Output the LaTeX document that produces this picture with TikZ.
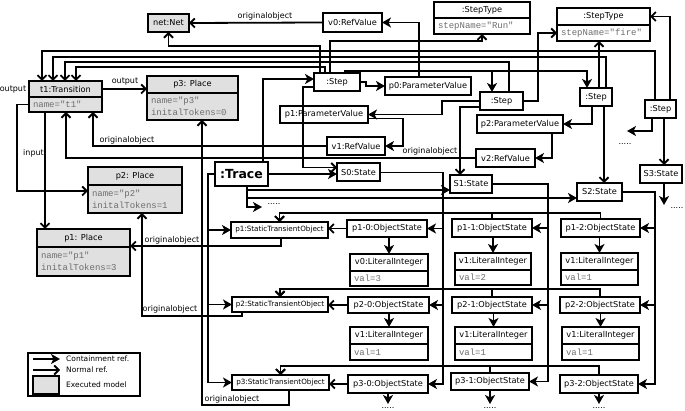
\documentclass[tikz,border=0pt]{standalone}
\usepackage{fontspec}
\setmainfont{DejaVu Sans}
\setmonofont{Liberation Mono}
\usepackage{tikz}
\usetikzlibrary{arrows.meta, positioning}
\definecolor{ExecGray}{RGB}{224,224,224}
\definecolor{AttrGray}{RGB}{110,110,110}

\begin{document}
\begin{tikzpicture}[x=1pt, y=-1pt,
  obj/.style={draw, line width=2pt, fill=white, outer sep=0pt,
              inner xsep=3pt, inner ysep=0pt, minimum height=18pt,
              font=\fontsize{8.2}{9.8}\selectfont},
  exec/.style={obj, fill=ExecGray},
  attr/.style={draw, line width=2pt, fill=white, outer sep=0pt,
               inner xsep=4pt, inner ysep=1pt, align=left, text=AttrGray,
               font=\ttfamily\fontsize{9}{12}\selectfont},
  sto/.style={obj, minimum height=16pt, font=\fontsize{7.2}{8.6}\selectfont},
  lbl/.style={inner sep=0pt, font=\fontsize{8}{9.6}\selectfont},
  dotlbl/.style={inner sep=0pt, font=\fontsize{8}{9.6}\selectfont},
  contain/.style={-{Stealth[length=9pt,width=10pt,inset=2.5pt]}, line width=1.8pt},
  ref/.style={-{Straight Barb[length=4.5pt,width=9pt]}, line width=1.8pt},
]
  \useasboundingbox (0,0) rectangle (685,411);

  \node[exec, minimum width=41pt] (net) at (168.5,23) {net:Net};
  \node[exec, minimum width=73pt, minimum height=16pt] (t1H) at (65.5,89) {t1:Transition};
  \node[attr, fill=ExecGray, text width=65pt, minimum height=15pt, below=0pt of t1H] (t1A) {name="t1"};
  \node[exec, minimum width=91pt, minimum height=17pt] (p3H) at (192.5,84.5) {p3: Place};
  \node[attr, fill=ExecGray, text width=83pt, minimum height=27pt, below=0pt of p3H] (p3A)
    {name="p3"\\initalTokens=0};
  \node[exec, minimum width=94pt] (p2H) at (135,176) {p2: Place};
  \node[attr, fill=ExecGray, text width=86pt, minimum height=28pt, below=0pt of p2H] (p2A)
    {name="p2"\\initalTokens=1};
  \node[exec, minimum width=93pt] (p1H) at (83.5,238) {p1: Place};
  \node[attr, fill=ExecGray, text width=85pt, minimum height=29pt, below=0pt of p1H] (p1A)
    {name="p1"\\initalTokens=3};

  \node[obj, minimum width=96pt, minimum height=16pt] (runH) at (482,10) {:StepType};
  \node[attr, text width=88pt, minimum height=16pt, below=0pt of runH] (runA) {stepName="Run"};
  \node[obj, minimum width=93pt, minimum height=17pt] (fireH) at (603.5,16.5) {:StepType};
  \node[attr, text width=85pt, minimum height=16pt, below=0pt of fireH] (fireA) {stepName="fire"};

  \node[obj, minimum width=59pt, minimum height=19pt] (v0ref) at (352.5,22.5) {v0:RefValue};
  \node[obj, minimum width=46pt] (step1) at (337,82) {:Step};
  \node[obj, minimum width=86pt] (p0pv) at (428,86) {p0:ParameterValue};
  \node[obj, minimum width=43pt] (step2) at (501.5,101) {:Step};
  \node[obj, minimum width=32pt] (step3) at (596,97) {:Step};
  \node[obj, minimum width=31pt] (step4) at (660.5,109) {:Step};
  \node[obj, minimum width=88pt, minimum height=17pt] (p1pv) at (324,114.5) {p1:ParameterValue};
  \node[obj, minimum width=86pt] (p2pv) at (520,124) {p2:ParameterValue};
  \node[obj, minimum width=58pt] (v1ref) at (356,146) {v1:RefValue};
  \node[obj, minimum width=59pt] (v2ref) at (505.5,158) {v2:RefValue};

  \node[obj, line width=2.6pt, minimum width=53pt, minimum height=24pt,
        font=\bfseries\fontsize{12.5}{14}\selectfont] (trace) at (241.5,174) {:Trace};
  \node[obj, minimum width=43pt] (S0) at (358.5,172.5) {S0:State};
  \node[obj, minimum width=42pt] (S1) at (471,184) {S1:State};
  \node[obj, minimum width=45pt] (S2) at (599.5,192) {S2:State};
  \node[obj, minimum width=42pt] (S3) at (661,174) {S3:State};

  \node[sto, minimum width=97pt] (p1sto) at (279.5,230) {p1:StaticTransientObject};
  \node[obj, minimum width=80pt, minimum height=17pt] (p10) at (387,228.5) {p1-0:ObjectState};
  \node[obj, minimum width=80pt] (p11) at (492,228) {p1-1:ObjectState};
  \node[obj, minimum width=79pt] (p12) at (600.5,228) {p1-2:ObjectState};
  \node[obj, minimum width=78pt, minimum height=17pt] (v0litH) at (389,262.5) {v0:LiteralInteger};
  \node[attr, text width=70pt, minimum height=15pt, below=0pt of v0litH] (v0litA) {val=3};
  \node[obj, minimum width=76pt, minimum height=17pt] (v1aH) at (493,261.5) {v1:LiteralInteger};
  \node[attr, text width=68pt, minimum height=15pt, below=0pt of v1aH] (v1aA) {val=2};
  \node[obj, minimum width=77pt, minimum height=17pt] (v1bH) at (599.5,261.5) {v1:LiteralInteger};
  \node[attr, text width=69pt, minimum height=15pt, below=0pt of v1bH] (v1bA) {val=1};

  \node[sto, minimum width=96pt, minimum height=15pt] (p2sto) at (280,304.5) {p2:StaticTransientObject};
  \node[obj, minimum width=81pt, minimum height=16pt] (p20) at (388.5,305) {p2-0:ObjectState};
  \node[obj, minimum width=80pt, minimum height=16pt] (p21) at (492,305) {p2-1:ObjectState};
  \node[obj, minimum width=80pt, minimum height=16pt] (p22) at (600,305) {p2-2:ObjectState};
  \node[obj, minimum width=78pt, minimum height=17pt] (v1cH) at (389,335.5) {v1:LiteralInteger};
  \node[attr, text width=70pt, minimum height=16pt, below=0pt of v1cH] (v1cA) {val=1};
  \node[obj, minimum width=77pt, minimum height=17pt] (v1dH) at (493.5,335.5) {v1:LiteralInteger};
  \node[attr, text width=69pt, minimum height=16pt, below=0pt of v1dH] (v1dA) {val=1};
  \node[obj, minimum width=77pt, minimum height=17pt] (v1eH) at (600.5,335.5) {v1:LiteralInteger};
  \node[attr, text width=69pt, minimum height=16pt, below=0pt of v1eH] (v1eA) {val=1};

  \node[sto, minimum width=97pt, minimum height=15pt] (p3sto) at (280.5,382.5) {p3:StaticTransientObject};
  \node[obj, minimum width=80pt] (p30) at (388,384) {p3-0:ObjectState};
  \node[obj, minimum width=78pt, minimum height=17pt] (p31) at (490,381.5) {p3-1:ObjectState};
  \node[obj, minimum width=78pt] (p32) at (599,384) {p3-2:ObjectState};

  \node[lbl] (lorigA) at (265,16) {originalobject};
  \node[lbl] (loutA) at (125,82) {output};
  \node[lbl] (loutB) at (13,90) {output};
  \node[lbl, anchor=east] (linA) at (44,153) {input};
  \node[lbl] (lorigB) at (127,140) {originalobject};
  \node[lbl] (lorigC) at (430,151) {originalobject};
  \node[lbl] (lorigD) at (172,240) {originalobject};
  \node[lbl] (lorigE) at (170,309) {originalobject};
  \node[lbl] (lorigF) at (232,399) {originalobject};

  \node[dotlbl] (tdots) at (274,204) {.....};
  \node[dotlbl] (s4dots) at (625,144) {.....};
  \node[dotlbl] (s3dots) at (677,208) {.....};
  \node[dotlbl] (p30dots) at (388,408) {.....};
  \node[dotlbl] (p31dots) at (490,408) {.....};
  \node[dotlbl] (p32dots) at (599,408) {.....};
  \coordinate (tend) at (262,207);
  \coordinate (s4end) at (627,131);
  \coordinate (s3end) at (664,205);
  \coordinate (p30end) at (388,404);
  \coordinate (p31end) at (490,404);
  \coordinate (p32end) at (599,404);

  \draw[ref] (v0ref.west) -- (net.east);
  \draw[contain] (p0pv.north -| 419,0) |- (v0ref.east);
  \draw[ref] (step1.north -| 320,0) -- (320,46) -| (net.south);
  \draw[ref] (step1.north -| 330,0) -- (330,41) -| (runA.south);
  \draw[ref] (step1.north -| 325,0) -- (325,67) -| (t1H.north -| 76,0);
  \draw[ref] (step2.north -| 509,0) -- (509,62) -| (t1H.north -| 65,0);
  \draw[ref] (step3.north -| 606,0) -- (606,57) -| (t1H.north -| 53,0);
  \draw[ref] (step4.north -| 655,0) -- (655,51) -| (t1H.north -| 42,0);
  \draw[ref] (step3.north -| 599,0) -- (fireA.south -| 599,0);
  \draw[ref] (step4.north -| 670,0) |- (fireH.east);
  \draw[ref] (step2.east) -- (538,101) |- (fireA.west);
  \draw[contain] (step1.north -| 345,0) -- (345,71) -| (step2.north -| 492,0);
  \draw[contain] (step1.north -| 345,0) -- (345,71) -| (step3.north -| 587,0);
  \draw[contain] (step1.east) -- ++(6,0) |- (p0pv.west);
  \draw[contain] (trace.north -| 263,0) |- ([yshift=3pt]step1.west);
  \draw[ref] ([yshift=-5pt]step1.west) -- (303,87) |- ([yshift=5pt]S0.west);
  \draw[contain] (step2.west) -- (442,101) |- (p1pv.east);
  \draw[ref] ([yshift=-6pt]step2.west) -| (S1.north -| 460,0);
  \draw[contain] (step3.south -| 592,0) |- (p2pv.east);
  \draw[ref] (step3.south -| 604,0) -- (S2.north -| 604,0);
  \draw[contain] (step4.south -| 652,0) |- (s4end);
  \draw[ref] (step4.south -| 664,0) -- (S3.north -| 664,0);
  \draw[contain] ([yshift=-4pt]p1pv.east) -| (403,146) -- (v1ref.east);
  \draw[contain] (p2pv.south -| 552,0) |- (v2ref.east);
  \draw[ref] (v1ref.west) -| (t1A.south -| 93,0);
  \draw[ref] (v2ref.west) -| (t1A.south -| 66,0);

  \draw[ref] (t1H.east) -- (p3H.west |- t1H.east);
  \draw[ref] (t1A.west) -- (17,104.5) |- ([yshift=8pt]p2A.west);
  \draw[ref] (t1A.south -| 45,0) -- (p1H.north -| 45,0);
  \draw[ref] (p1sto.south -| 281,0) |- ([yshift=-8pt]p1H.east);
  \draw[ref] (p2sto.south -| 242,0) -- (242,316) -| (p2A.south -| 142,0);
  \draw[ref] (p3sto.south -| 289,0) -- (289,405) -| (p3A.south -| 202,0);

  \draw[contain] (trace.west) -| (p1sto.west -| 208,0) -- (p1sto.west);
  \draw[contain] (trace.west) -| (p2sto.west -| 208,0) -- (p2sto.west);
  \draw[contain] (trace.west) -| (p3sto.west -| 208,0) -- (p3sto.west);
  \draw[contain] (trace.east) -- (S0.west |- trace.east);
  \draw[contain] (trace.south -| 247,0) |- ([yshift=-6pt]S1.west);
  \draw[contain] (trace.south -| 247,0) |- ([yshift=-6pt]S2.west);
  \draw[contain] (trace.south -| 247,0) |- (tend);

  \draw[contain] (S0.east) -| (p10.east -| 443,0) -- (p10.east);
  \draw[contain] (S0.east) -| (p20.east -| 443,0) -- (p20.east);
  \draw[contain] (S0.east) -| (p30.east -| 443,0) -- (p30.east);
  \draw[contain] (S1.east) -| (p11.east -| 548,0) -- (p11.east);
  \draw[contain] (S1.east) -| (p21.east -| 548,0) -- (p21.east);
  \draw[contain] (S1.east) -| (p31.east -| 548,0) -- (p31.east);
  \draw[contain] (S2.east) -| (p12.east -| 655,0) -- (p12.east);
  \draw[contain] (S2.east) -| (p22.east -| 655,0) -- (p22.east);
  \draw[contain] (S2.east) -| (p32.east -| 655,0) -- (p32.east);
  \draw[contain] (S3.south -| 664,0) -- (s3end);

  \draw[ref] (p10.west) -- (p1sto.east |- p10.west);
  \draw[ref] (p11.north) -- (p11.north |- 0,213) -| (p1sto.north);
  \draw[ref] (p12.north) -- (p12.north |- 0,213) -| (p1sto.north);
  \draw[ref] (p20.west) -- (p2sto.east |- p20.west);
  \draw[ref] (p21.north) -- (p21.north |- 0,289) -| (p2sto.north);
  \draw[ref] (p22.north) -- (p22.north |- 0,289) -| (p2sto.north);
  \draw[ref] (p30.west) -- (p3sto.east |- p30.west);
  \draw[ref] (p31.north) -- (p31.north |- 0,366) -| (p3sto.north);
  \draw[ref] (p32.north) -- (p32.north |- 0,366) -| (p3sto.north);

  \draw[contain] (p10.south -| v0litH.north) -- (v0litH.north);
  \draw[contain] (p11.south -| v1aH.north) -- (v1aH.north);
  \draw[contain] (p12.south -| v1bH.north) -- (v1bH.north);
  \draw[contain] (p20.south -| v1cH.north) -- (v1cH.north);
  \draw[contain] (p21.south -| v1dH.north) -- (v1dH.north);
  \draw[contain] (p22.south -| v1eH.north) -- (v1eH.north);
  \draw[contain] (p30.south -| p30end) -- (p30end);
  \draw[contain] (p31.south -| p31end) -- (p31end);
  \draw[contain] (p32.south -| p32end) -- (p32end);

  \node[draw, line width=2pt, minimum width=112pt, minimum height=43pt] (legend) at (84,374.5) {};
  \coordinate (lgcA) at (33,359);
  \coordinate (lgcB) at (60,359);
  \coordinate (lgrA) at (33,370);
  \coordinate (lgrB) at (60,370);
  \draw[contain] (lgcA) -- (lgcB);
  \draw[ref] (lgrA) -- (lgrB);
  \node[exec, minimum width=26pt, minimum height=18pt] (lgbox) at (46,385) {};
  \node[lbl, anchor=west, font=\fontsize{7.5}{9}\selectfont] (lgcT) at (66,359) {Containment ref.};
  \node[lbl, anchor=west, font=\fontsize{7.5}{9}\selectfont] (lgrT) at (66,370) {Normal ref.};
  \node[lbl, anchor=west, font=\fontsize{7.5}{9}\selectfont] (lgeT) at (66,385) {Executed model};
\end{tikzpicture}
\end{document}
